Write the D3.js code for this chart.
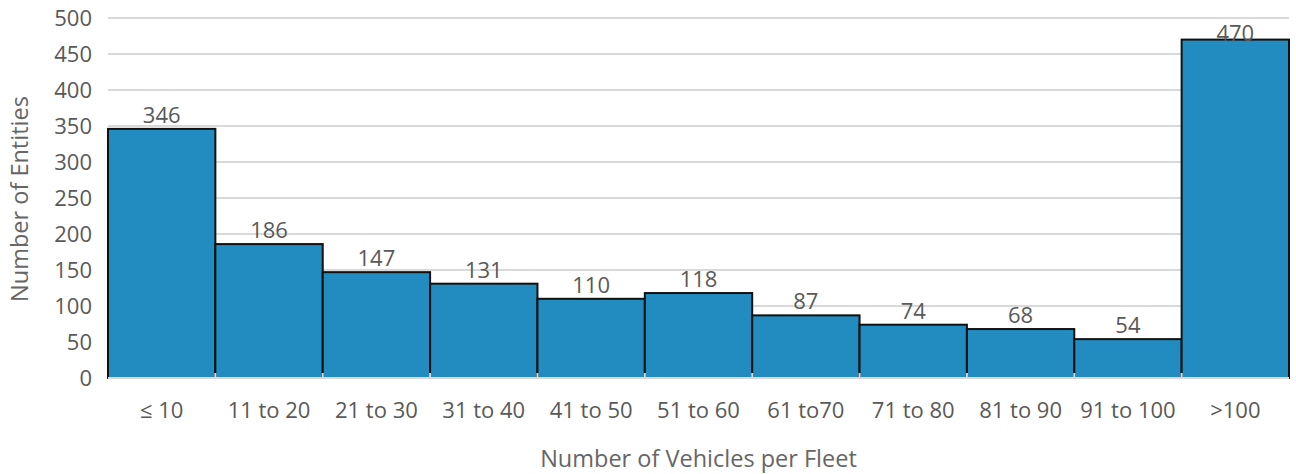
<!DOCTYPE html>
<html>
<head>
<meta charset="utf-8">
<script src="https://cdn.jsdelivr.net/npm/d3@7"></script>
<style>
  body { margin: 0; background: #fff; }
  text { font-family: "Open Sans", "Noto Sans", sans-serif; fill: #595959; }
</style>
</head>
<body>
<script>
const width = 1296;
const height = 474;

// Data
const categories = ["\u2264 10", "11 to 20", "21 to 30", "31 to 40", "41 to 50", "51 to 60",
  "61 to70", "71 to 80", "81 to 90", "91 to 100", ">100"];
const counts = [346, 186, 147, 131, 110, 118, 87, 74, 68, 54, 470];
const yTicks = [0, 50, 100, 150, 200, 250, 300, 350, 400, 450, 500];

const margin = { top: 18, right: 7, bottom: 96, left: 108 };

const svg = d3.select("body")
    .append("svg")
    .attr("width", width)
    .attr("height", height);

const x = d3.scaleBand()
    .domain(categories)
    .range([margin.left, width - margin.right])
    .padding(0);

const y = d3.scaleLinear()
    .domain([0, 500])
    .range([height - margin.bottom, margin.top]);

// gridlines
svg.append("g")
    .selectAll("line")
    .data(yTicks)
    .enter()
    .append("line")
    .attr("x1", margin.left)
    .attr("x2", width - margin.right)
    .attr("y1", d => y(d))
    .attr("y2", d => y(d))
    .attr("stroke", "#d9d9d9")
    .attr("stroke-width", 2);

// y tick labels
svg.append("g")
    .selectAll("text")
    .data(yTicks)
    .enter()
    .append("text")
    .attr("x", margin.left - 16)
    .attr("y", d => y(d))
    .attr("dy", "0.35em")
    .attr("text-anchor", "end")
    .style("font-size", "22px")
    .text(d => d);

// bars
svg.append("g")
    .selectAll("rect")
    .data(counts)
    .enter()
    .append("rect")
    .attr("x", (d, i) => x(categories[i]))
    .attr("y", d => y(d))
    .attr("width", x.bandwidth())
    .attr("height", d => y(0) - y(d))
    .attr("fill", "#228bc0")
    .attr("stroke", "#111")
    .attr("stroke-width", 2);

// baseline
svg.append("line")
    .attr("x1", margin.left)
    .attr("x2", width - margin.right)
    .attr("y1", y(0))
    .attr("y2", y(0))
    .attr("stroke", "#d9d9d9")
    .attr("stroke-width", 2);

// small tick marks at bar boundaries
svg.append("g")
    .selectAll("line")
    .data(categories.slice(1))
    .enter()
    .append("line")
    .attr("x1", d => x(d))
    .attr("x2", d => x(d))
    .attr("y1", y(0) - 5)
    .attr("y2", y(0))
    .attr("stroke", "#d9d9d9")
    .attr("stroke-width", 2);

// value labels (the top one gets pushed down into the bar, as in the original)
svg.append("g")
    .selectAll("text")
    .data(counts)
    .enter()
    .append("text")
    .attr("x", (d, i) => x(categories[i]) + x.bandwidth() / 2)
    .attr("y", d => Math.max(y(d) - 6, margin.top + 23))
    .attr("text-anchor", "middle")
    .style("font-size", "22px")
    .text(d => d);

// x labels
svg.append("g")
    .selectAll("text")
    .data(categories)
    .enter()
    .append("text")
    .attr("x", d => x(d) + x.bandwidth() / 2)
    .attr("y", y(0) + 40)
    .attr("text-anchor", "middle")
    .style("font-size", "22px")
    .text(d => d);

// axis titles
svg.append("text")
    .attr("x", (margin.left + width - margin.right) / 2)
    .attr("y", 467)
    .attr("text-anchor", "middle")
    .style("font-size", "23.5px")
    .style("fill", "#666")
    .text("Number of Vehicles per Fleet");

svg.append("text")
    .attr("transform", `translate(28, ${y(250) + 1}) rotate(-90)`)
    .attr("text-anchor", "middle")
    .style("font-size", "23.5px")
    .style("fill", "#666")
    .text("Number of Entities");
</script>
</body>
</html>
